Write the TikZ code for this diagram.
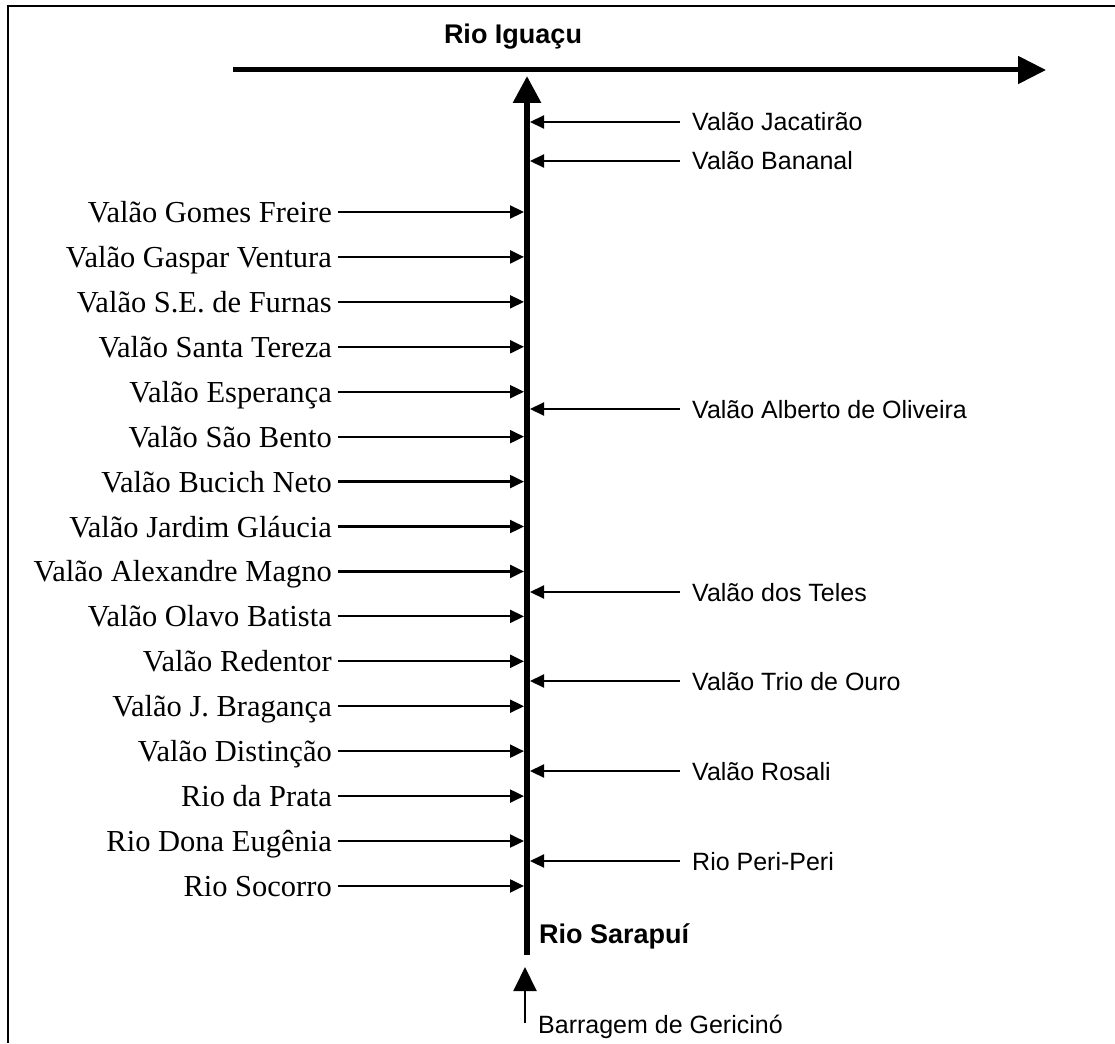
\documentclass[tikz,border=0pt]{standalone}
\usepackage{fontspec}
\setmainfont{Liberation Serif}
\setsansfont{Liberation Sans}
\usetikzlibrary{arrows.meta}
\tikzset{
  leftlab/.style={anchor=east,inner xsep=6pt,inner ysep=0pt,text height=21pt,text depth=0pt,font=\fontsize{30.5}{36}\selectfont},
  rightlab/.style={anchor=west,inner xsep=12pt,inner ysep=0pt,text height=18pt,text depth=0pt,font=\sffamily\fontsize{25}{30}\selectfont},
  riverlab/.style={inner sep=0pt,font=\sffamily\bfseries\fontsize{27}{32}\selectfont},
  trib/.style={line width=2.2pt,-{Triangle[length=14pt,width=13pt]}},
  river/.style={line width=6pt,-{Triangle[length=27pt,width=27pt]}}
}
\begin{document}
\begin{tikzpicture}[x=1pt,y=-1pt]
\useasboundingbox (0,0) rectangle (1115,1043);
\draw[line width=2.5pt] (8,1043) -- (8,6) -- (1115,6);
% Rio Iguacu
\coordinate (igW) at (233,70);
\coordinate (igE) at (1046,70);
\draw[line width=5pt,-{Triangle[length=28pt,width=27pt]}] (igW) -- (igE);
\node[riverlab,anchor=base] (iguacu) at (513,44) {Rio Iguaçu};
% Rio Sarapui
\coordinate (sarS) at (527,955);
\coordinate (sarN) at (527,76);
\coordinate (tipL) at (524,0);
\coordinate (tipR) at (530,0);
\draw[river] (sarS) -- (sarN);
\node[riverlab,anchor=base west] (sarapui) at (539,943) {Rio Sarapuí};
\coordinate (barS) at (525,1023);
\coordinate (barN) at (525,967);
\draw[line width=2pt,-{Triangle[length=24pt,width=23pt]}] (barS) -- (barN);
\node[font=\sffamily\fontsize{25}{30}\selectfont,inner sep=0pt,anchor=base west] (barragem) at (538,1033) {Barragem de Gericinó};
% left bank
\foreach \name [count=\i from 0] in {Valão Gomes Freire,Valão Gaspar Ventura,Valão S.E. de Furnas,Valão Santa Tereza,Valão Esperança,Valão São Bento,Valão Bucich Neto,Valão Jardim Gláucia,Valão Alexandre Magno,Valão Olavo Batista,Valão Redentor,Valão J. Bragança,Valão Distinção,Rio da Prata,Rio Dona Eugênia,Rio Socorro}
{
  \node[leftlab] (l\i) at (338,{212+44.93*\i}) {\name};
  \draw[trib] (l\i.east) -- (l\i.east -| tipL);
}
% right bank
\foreach \y/\name [count=\i] in {122/Valão Jacatirão,161/Valão Bananal,409/Valão Alberto de Oliveira,592/Valão dos Teles,681/Valão Trio de Ouro,771/Valão Rosali,861/Rio Peri-Peri}
{
  \node[rightlab] (r\i) at (680,\y) {\name};
  \draw[trib] (r\i.west) -- (r\i.west -| tipR);
}
\end{tikzpicture}
\end{document}
